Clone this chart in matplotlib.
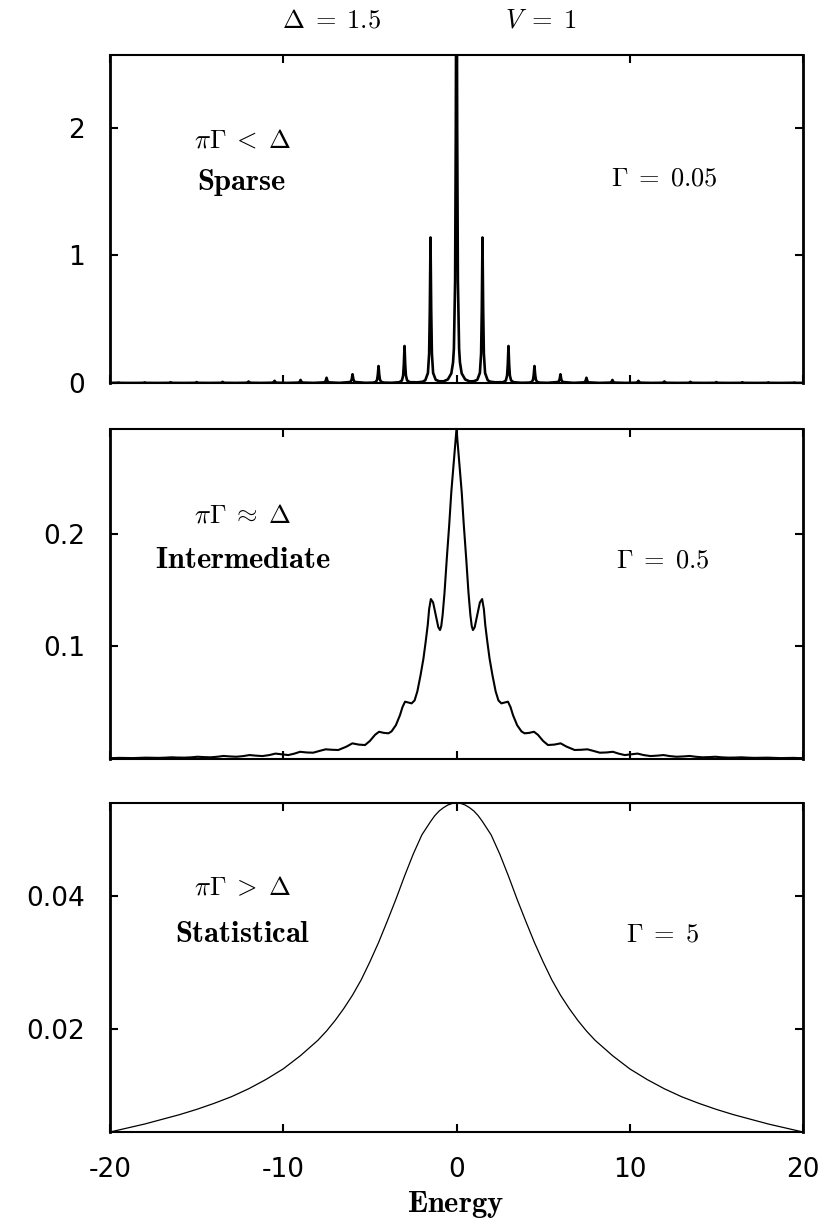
import matplotlib
matplotlib.use("Agg")
import matplotlib.pyplot as plt

plt.rcParams['mathtext.fontset'] = 'cm'
plt.rcParams['font.family'] = ['DejaVu Sans']

# ---------------- data ----------------
X_TICKS = [-20, -10, 0, 10, 20]
X_TICK_LABELS = ['-20', '-10', '0', '10', '20']

# Panel 1 : Gamma = 0.05 (sparse)
ENERGY_1 = [
    -20.0,
    -19.62, -19.55, -19.5, -19.45, -19.38, -18.75,
    -18.12, -18.05, -18.0, -17.95, -17.88, -17.25,
    -16.62, -16.55, -16.5, -16.45, -16.38, -15.75,
    -15.12, -15.05, -15.0, -14.95, -14.88, -14.25,
    -13.62, -13.55, -13.5, -13.45, -13.38, -12.75,
    -12.12, -12.05, -12.0, -11.95, -11.88, -11.25,
    -10.62, -10.55, -10.5, -10.45, -10.38, -9.75,
    -9.12, -9.05, -9.0, -8.95, -8.88, -8.25,
    -7.62, -7.55, -7.5, -7.45, -7.38, -6.75,
    -6.12, -6.05, -6.0, -5.95, -5.88, -5.25,
    -4.8, -4.65, -4.58, -4.54, -4.5, -4.46, -4.42, -4.35, -4.2, -3.75,
    -3.3, -3.15, -3.08, -3.04, -3.0, -2.96, -2.92, -2.85, -2.7, -2.25,
    -1.95, -1.8, -1.65, -1.58, -1.54, -1.5, -1.46, -1.42, -1.35, -1.2, -1.0, -0.75,
    -0.5, -0.3, -0.2, -0.15, -0.08, -0.04, 0.0, 0.04, 0.08, 0.15, 0.2, 0.3, 0.5,
    0.75, 1.0, 1.2, 1.35, 1.42, 1.46, 1.5, 1.54, 1.58, 1.65, 1.8, 1.95,
    2.25, 2.7, 2.85, 2.92, 2.96, 3.0, 3.04, 3.08, 3.15, 3.3,
    3.75, 4.2, 4.35, 4.42, 4.46, 4.5, 4.54, 4.58, 4.65, 4.8,
    5.25, 5.88, 5.95, 6.0, 6.05, 6.12,
    6.75, 7.38, 7.45, 7.5, 7.55, 7.62,
    8.25, 8.88, 8.95, 9.0, 9.05, 9.12,
    9.75, 10.38, 10.45, 10.5, 10.55, 10.62,
    11.25, 11.88, 11.95, 12.0, 12.05, 12.12,
    12.75, 13.38, 13.45, 13.5, 13.55, 13.62,
    14.25, 14.88, 14.95, 15.0, 15.05, 15.12,
    15.75, 16.38, 16.45, 16.5, 16.55, 16.62,
    17.25, 17.88, 17.95, 18.0, 18.05, 18.12,
    18.75, 19.38, 19.45, 19.5, 19.55, 19.62,
    20.0,
]
STRENGTH_1 = [
    0.0003,
    0.0007, 0.0016, 0.004, 0.0016, 0.0007, 0.0003,
    0.0008, 0.002, 0.005, 0.002, 0.0008, 0.0003,
    0.0009, 0.0024, 0.006, 0.0024, 0.0009, 0.0003,
    0.001, 0.0028, 0.007, 0.0028, 0.001, 0.0004,
    0.0012, 0.0036, 0.009, 0.0036, 0.0012, 0.0004,
    0.0016, 0.0048, 0.012, 0.0048, 0.0016, 0.0005,
    0.0022, 0.0068, 0.017, 0.0068, 0.0022, 0.0006,
    0.003, 0.0095, 0.024, 0.0095, 0.003, 0.0007,
    0.005, 0.016, 0.041, 0.016, 0.005, 0.0009,
    0.008, 0.027, 0.068, 0.027, 0.008, 0.0012,
    0.003, 0.009, 0.027, 0.067, 0.133, 0.067, 0.027, 0.0093, 0.003, 0.0016,
    0.006, 0.020, 0.059, 0.145, 0.29, 0.145, 0.059, 0.020, 0.0064, 0.0053,
    0.010, 0.022, 0.078, 0.23, 0.572, 1.14, 0.573, 0.231, 0.079, 0.025, 0.014, 0.013,
    0.028, 0.075, 0.16, 0.27, 0.8, 2.0, 4.0, 2.0, 0.8, 0.27, 0.16, 0.075, 0.028,
    0.013, 0.014, 0.025, 0.079, 0.231, 0.573, 1.14, 0.572, 0.23, 0.078, 0.022, 0.010,
    0.0053, 0.0064, 0.020, 0.059, 0.145, 0.29, 0.145, 0.059, 0.020, 0.006,
    0.0016, 0.003, 0.0093, 0.027, 0.067, 0.133, 0.067, 0.027, 0.009, 0.003,
    0.0012, 0.008, 0.027, 0.068, 0.027, 0.008,
    0.0009, 0.005, 0.016, 0.041, 0.016, 0.005,
    0.0007, 0.003, 0.0095, 0.024, 0.0095, 0.003,
    0.0006, 0.0022, 0.0068, 0.017, 0.0068, 0.0022,
    0.0005, 0.0016, 0.0048, 0.012, 0.0048, 0.0016,
    0.0004, 0.0012, 0.0036, 0.009, 0.0036, 0.0012,
    0.0004, 0.001, 0.0028, 0.007, 0.0028, 0.001,
    0.0003, 0.0009, 0.0024, 0.006, 0.0024, 0.0009,
    0.0003, 0.0008, 0.002, 0.005, 0.002, 0.0008,
    0.0003, 0.0007, 0.0016, 0.004, 0.0016, 0.0007,
    0.0003,
]

# Panel 2 : Gamma = 0.5 (intermediate)
ENERGY_2 = [
    -20.0, -19.8, -19.45, -19.1, -18.7, -18.3, -17.95, -17.6, -17.2, -16.8,
    -16.45, -16.1, -15.7, -15.3, -14.95, -14.6, -14.2, -13.8, -13.45, -13.1,
    -12.7, -12.3, -11.95, -11.6, -11.2, -10.8, -10.45, -10.1, -9.71, -9.35,
    -9.03, -8.65, -8.27, -7.9, -7.55, -7.2, -6.82, -6.35, -6.01, -5.65,
    -5.28, -5.0, -4.7, -4.47, -4.2, -3.93, -3.75, -3.5, -3.26, -3.12,
    -2.97, -2.8, -2.59, -2.42, -2.26, -2.08, -1.91, -1.78, -1.66, -1.58,
    -1.48, -1.35, -1.2, -1.05, -0.95, -0.88, -0.8, -0.69, -0.56, -0.42,
    -0.3, -0.14, 0.0,
    0.14, 0.3, 0.42, 0.56, 0.69, 0.8, 0.88, 0.95, 1.05, 1.2,
    1.35, 1.48, 1.58, 1.66, 1.78, 1.91, 2.08, 2.26, 2.42, 2.59,
    2.8, 2.97, 3.12, 3.26, 3.5, 3.75, 3.93, 4.2, 4.47, 4.7,
    5.0, 5.28, 5.65, 6.01, 6.35, 6.82, 7.2, 7.55, 7.9, 8.27,
    8.65, 9.03, 9.35, 9.71, 10.1, 10.45, 10.8, 11.2, 11.6, 11.95,
    12.3, 12.7, 13.1, 13.45, 13.8, 14.2, 14.6, 14.95, 15.3, 15.7,
    16.1, 16.45, 16.8, 17.2, 17.6, 17.95, 18.3, 18.7, 19.1, 19.45,
    19.8, 20.0,
]
STRENGTH_2 = [
    0.0008, 0.0008, 0.0010, 0.0009, 0.0008, 0.0010, 0.0012, 0.0011, 0.0010, 0.0012,
    0.0015, 0.0013, 0.0012, 0.0015, 0.0020, 0.0017, 0.0015, 0.0020, 0.0027, 0.0023,
    0.0020, 0.0026, 0.0035, 0.0030, 0.0026, 0.0035, 0.0048, 0.0042, 0.0035, 0.0048,
    0.0064, 0.0058, 0.0056, 0.0072, 0.0086, 0.0082, 0.0080, 0.0110, 0.0139, 0.0128,
    0.0124, 0.0160, 0.0215, 0.0242, 0.0232, 0.0228, 0.0245, 0.0300, 0.0390, 0.0460,
    0.0509, 0.0502, 0.0494, 0.0520, 0.0600, 0.0740, 0.0890, 0.1040, 0.1190, 0.1330,
    0.1420, 0.1390, 0.1280, 0.1170, 0.1145, 0.1180, 0.1280, 0.1480, 0.1780, 0.2080,
    0.2370, 0.2670, 0.2930,
    0.2670, 0.2370, 0.2080, 0.1780, 0.1480, 0.1280, 0.1180, 0.1145, 0.1170, 0.1280,
    0.1390, 0.1420, 0.1330, 0.1190, 0.1040, 0.0890, 0.0740, 0.0600, 0.0520, 0.0494,
    0.0502, 0.0509, 0.0460, 0.0390, 0.0300, 0.0245, 0.0228, 0.0232, 0.0242, 0.0215,
    0.0160, 0.0124, 0.0128, 0.0139, 0.0110, 0.0080, 0.0082, 0.0086, 0.0072, 0.0056,
    0.0058, 0.0064, 0.0048, 0.0035, 0.0042, 0.0048, 0.0035, 0.0026, 0.0030, 0.0035,
    0.0026, 0.0020, 0.0023, 0.0027, 0.0020, 0.0015, 0.0017, 0.0020, 0.0015, 0.0012,
    0.0013, 0.0015, 0.0012, 0.0010, 0.0011, 0.0012, 0.0010, 0.0008, 0.0009, 0.0010,
    0.0008, 0.0008,
]

# Panel 3 : Gamma = 5 (statistical)
ENERGY_3 = [
    -20, -19, -18, -17, -16, -15, -14, -13, -12, -11, -10, -9, -8, -7.5, -7,
    -6.5, -6, -5.5, -5, -4.5, -4, -3.5, -3, -2.5, -2, -1.5, -1.25, -1, -0.75,
    -0.5, -0.25, 0,
    0.25, 0.5, 0.75, 1, 1.25, 1.5, 2, 2.5, 3, 3.5, 4, 4.5, 5, 5.5, 6, 6.5, 7,
    7.5, 8, 9, 10, 11, 12, 13, 14, 15, 16, 17, 18, 19, 20,
]
STRENGTH_3 = [
    0.0045, 0.0051, 0.0057, 0.0064, 0.0071, 0.0079, 0.0088, 0.0098, 0.0110, 0.0124,
    0.0140, 0.0160, 0.0183, 0.0197, 0.0213, 0.0231, 0.0251, 0.0274, 0.0301, 0.0330,
    0.0362, 0.0395, 0.0430, 0.0463, 0.0492, 0.0512, 0.0521, 0.0528, 0.0533,
    0.0537, 0.05393, 0.0540,
    0.05393, 0.0537, 0.0533, 0.0528, 0.0521, 0.0512, 0.0492, 0.0463, 0.0430, 0.0395,
    0.0362, 0.0330, 0.0301, 0.0274, 0.0251, 0.0231, 0.0213, 0.0197, 0.0183, 0.0160,
    0.0140, 0.0124, 0.0110, 0.0098, 0.0088, 0.0079, 0.0071, 0.0064, 0.0057, 0.0051,
    0.0045,
]

Y_TICKS_1, Y_LABELS_1 = [0, 1, 2], ['0', '1', '2']
Y_TICKS_2, Y_LABELS_2 = [0.1, 0.2], ['0.1', '0.2']
Y_TICKS_3, Y_LABELS_3 = [0.02, 0.04], ['0.02', '0.04']

# ---------------- figure ----------------
FW, FH = 825, 1228
fig = plt.figure(figsize=(FW / 100, FH / 100), dpi=100)


def axes_px(left, top, right, bottom):
    return fig.add_axes([left / FW, 1 - bottom / FH, (right - left) / FW, (bottom - top) / FH])


ax1 = axes_px(110, 55, 803, 383)
ax2 = axes_px(110, 429, 803, 759)
ax3 = axes_px(110, 803, 803, 1132)

ax1.plot(ENERGY_1, STRENGTH_1, color='black', lw=1.9, solid_joinstyle='round')
ax2.plot(ENERGY_2, STRENGTH_2, color='black', lw=1.5, solid_joinstyle='round')
ax3.plot(ENERGY_3, STRENGTH_3, color='black', lw=0.9)

ax1.set_ylim(0, 2.57)
ax2.set_ylim(0, 0.293)
ax3.set_ylim(0.0045, 0.054)

for ax, yt, yl in ((ax1, Y_TICKS_1, Y_LABELS_1), (ax2, Y_TICKS_2, Y_LABELS_2),
                   (ax3, Y_TICKS_3, Y_LABELS_3)):
    ax.set_xlim(-20, 20)
    ax.set_xticks(X_TICKS)
    ax.set_yticks(yt)
    ax.set_yticklabels(yl)
    ax.tick_params(axis='both', direction='in', length=6, width=1.5,
                   top=True, right=True, labelsize=19)
    ax.tick_params(axis='y', pad=18)
    for s in ax.spines.values():
        s.set_linewidth(1.5)
    ax.spines['left'].set_linewidth(2.0)
    ax.spines['right'].set_linewidth(2.0)

ax1.set_xticklabels([])
ax2.set_xticklabels([])
ax3.set_xticklabels(X_TICK_LABELS)
ax3.tick_params(axis='x', pad=18)


def ftext(x, y, s, size=19):
    fig.text(x / FW, 1 - y / FH, s, ha='center', va='center', fontsize=size)


ftext(331, 20, r'$\Delta\;=\;1.5$')
ftext(541, 20, r'$V\;=\;1$')

ftext(242, 140, r'$\pi\Gamma\;<\;\Delta$')
ftext(242, 183, r'$\mathbf{Sparse}$', 22)
ftext(664, 178, r'$\Gamma\;=\;0.05$')

ftext(242, 515, r'$\pi\Gamma\;\approx\;\Delta$')
ftext(243, 560, r'$\mathbf{Intermediate}$', 22)
ftext(663, 560, r'$\Gamma\;=\;0.5$')

ftext(242, 888, r'$\pi\Gamma\;>\;\Delta$')
ftext(243, 933, r'$\mathbf{Statistical}$', 22)
ftext(663, 935, r'$\Gamma\;=\;5$')

ftext(456, 1205, r'$\mathbf{Energy}$', 22)

fig.savefig('out.png', dpi=100)
